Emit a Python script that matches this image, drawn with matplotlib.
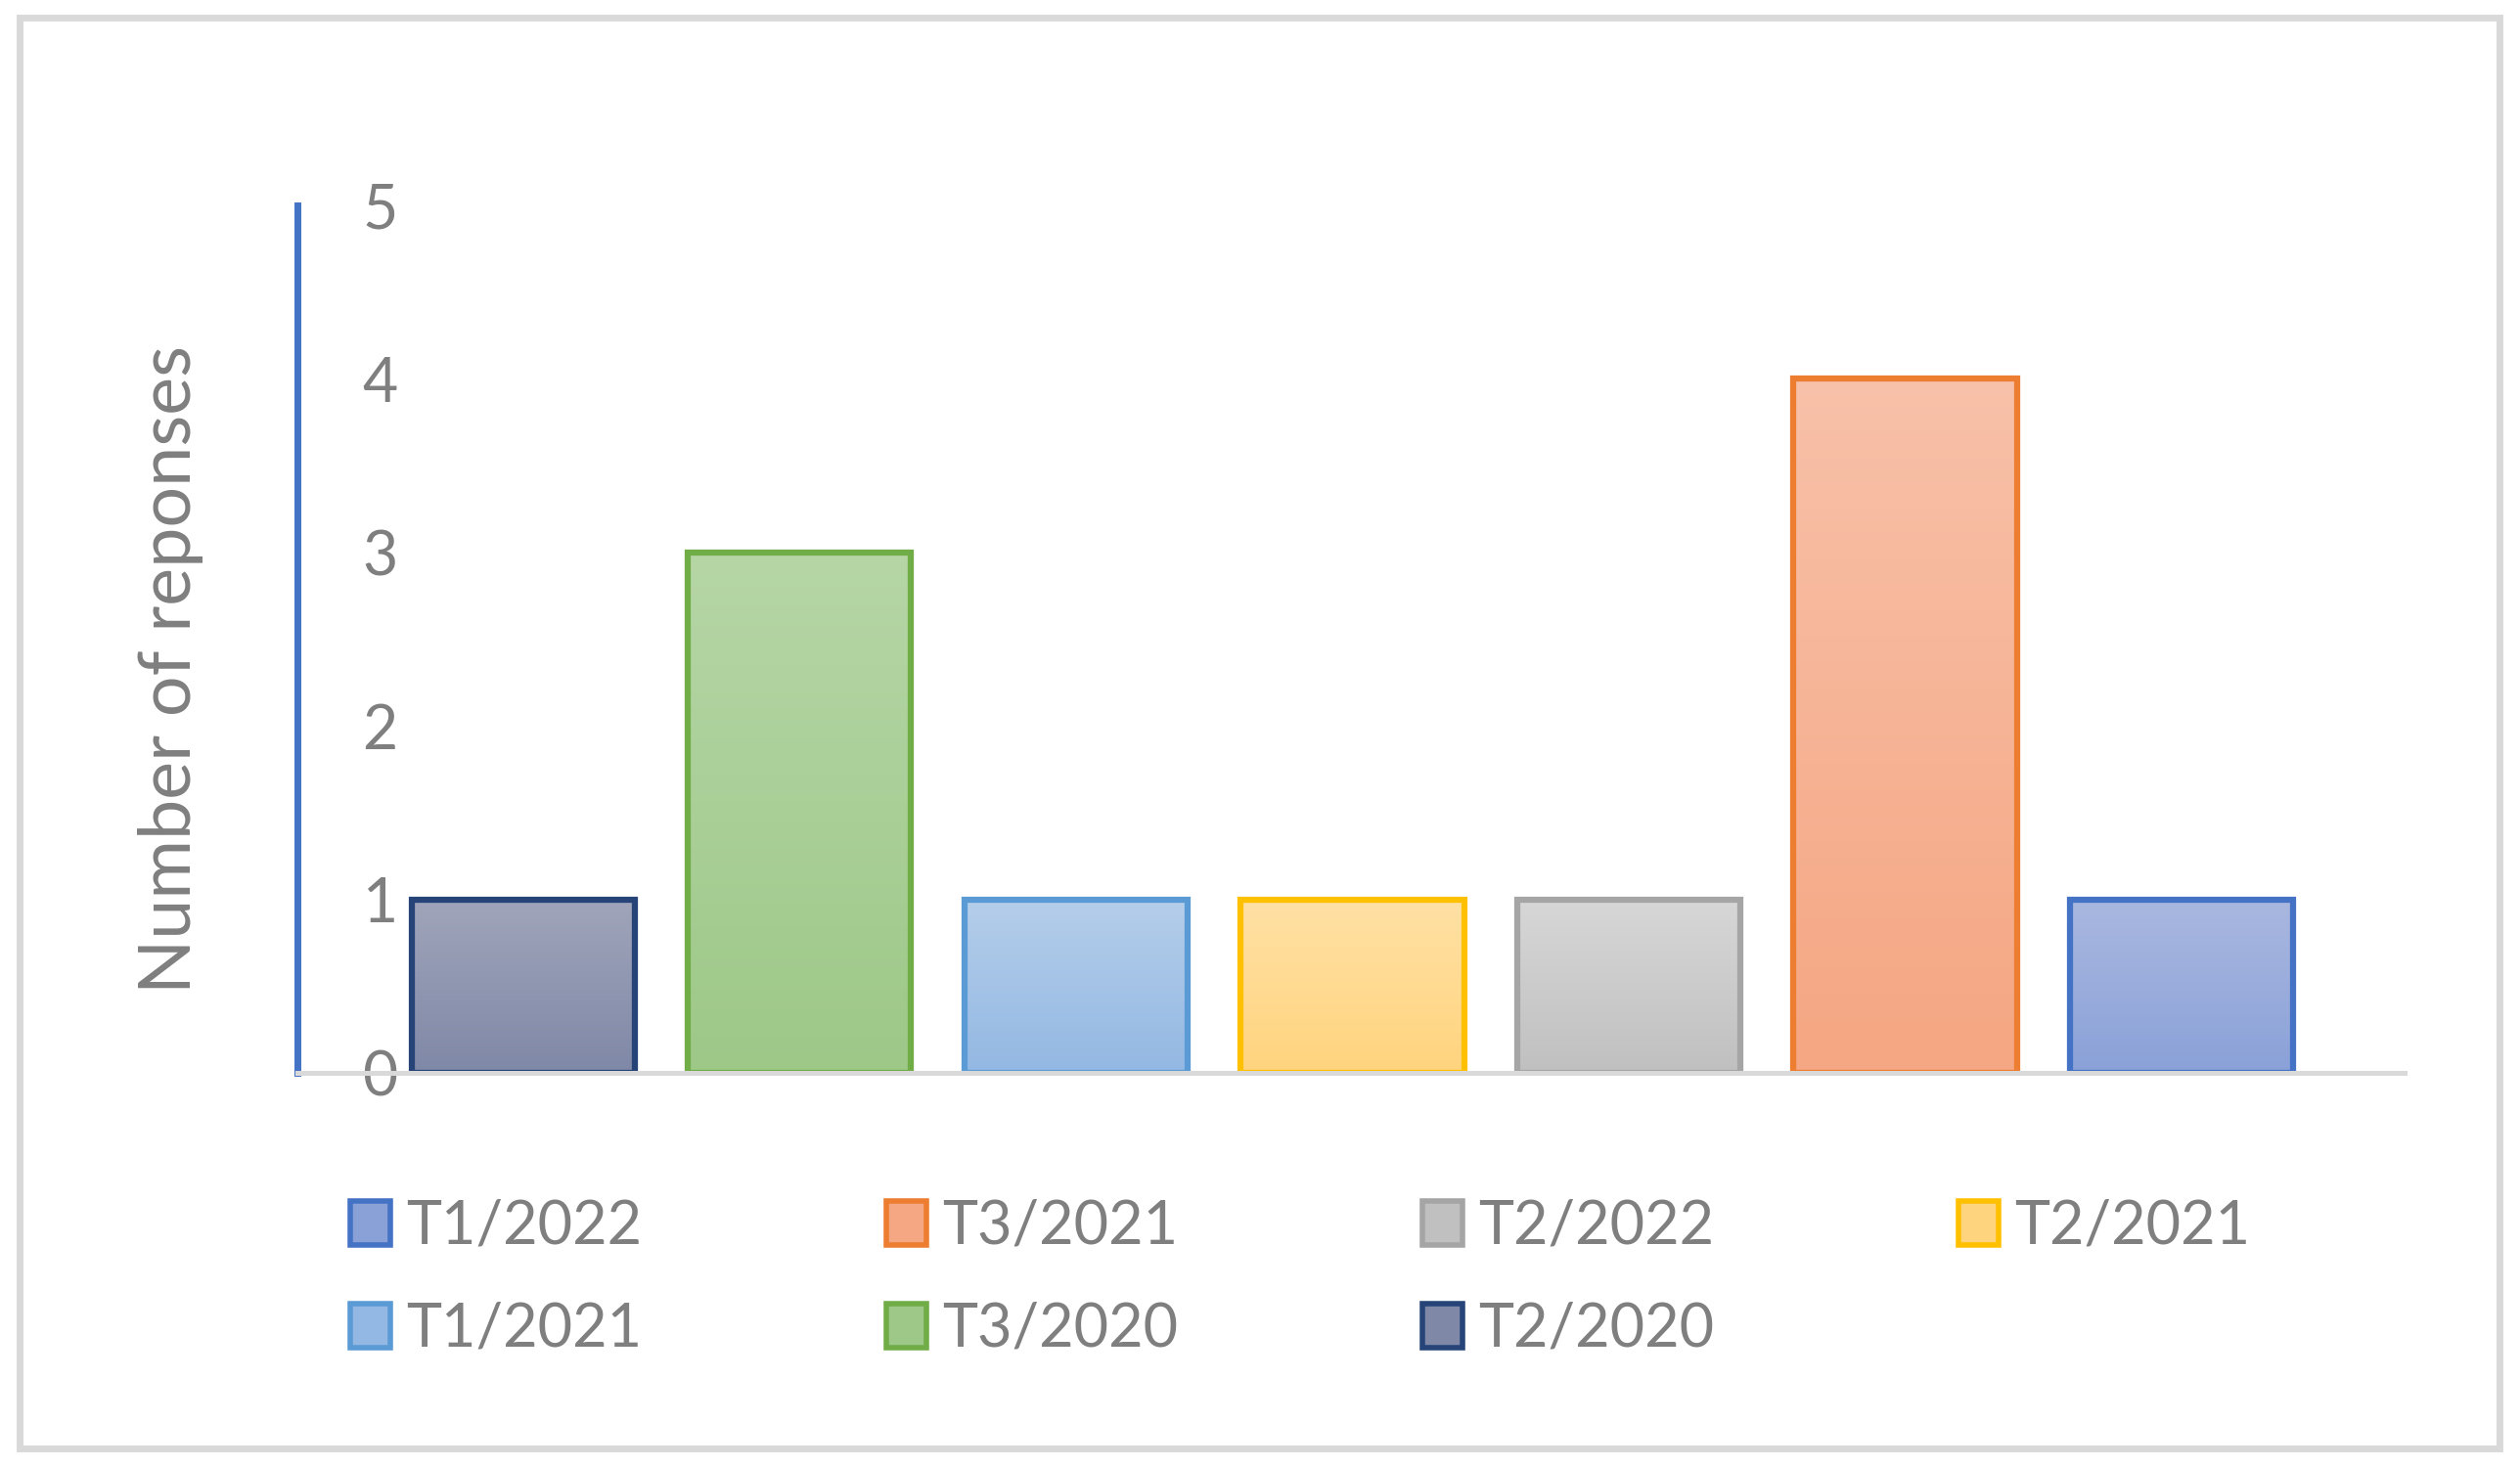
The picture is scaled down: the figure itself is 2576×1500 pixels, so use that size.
import numpy as np
import matplotlib
matplotlib.use("Agg")
import matplotlib.pyplot as plt
from matplotlib.colors import LinearSegmentedColormap
from matplotlib.patches import Patch, Rectangle

# data, in bar order (left to right)
periods = ["T2/2020", "T3/2020", "T1/2021", "T2/2021", "T2/2022", "T3/2021", "T1/2022"]
responses = [1, 3, 1, 1, 1, 4, 1]

edge_colors = ["#264478", "#70AD47", "#5B9BD5", "#FFC000", "#A5A5A5", "#ED7D31", "#4472C4"]
top_colors = ["#A0A5BA", "#B6D6A6", "#B5CEEA", "#FFE1A5", "#D7D7D7", "#F8C1A9", "#AAB8E0"]
bottom_colors = ["#7F88A7", "#9DC888", "#93B8E3", "#FFD47E", "#C0C0C0", "#F5A682", "#8AA1D8"]

plt.rcParams['font.family'] = ['Lato', 'DejaVu Sans']
text_grey = "#7F7F7F"

fig = plt.figure(figsize=(25.76, 15), dpi=100)
ax = fig.add_axes([0.118, 0.2687, 0.836, 0.5913])

x = np.arange(len(periods))
width = 0.808
bars = ax.bar(x, responses, width=width, facecolor="none",
              edgecolor=edge_colors, linewidth=4.5, zorder=3)

# vertical gradient fill for each bar, clipped to the bar shape
grad = np.linspace(0, 1, 256).reshape(-1, 1)
for b, c_top, c_bot in zip(bars, top_colors, bottom_colors):
    cmap = LinearSegmentedColormap.from_list("g", [c_bot, c_top])
    im = ax.imshow(grad, cmap=cmap, origin="lower", aspect="auto",
                   extent=[b.get_x(), b.get_x() + b.get_width(), 0, b.get_height()],
                   zorder=2)
    im.set_clip_path(b)

ax.set_xlim(-0.817, 6.805)
ax.set_ylim(0, 5)
ax.set_yticks(range(0, 6))
ax.set_xticks([])

for s in ["top", "right"]:
    ax.spines[s].set_visible(False)
ax.spines["left"].set_color("#4472C4")
ax.spines["left"].set_linewidth(5)
ax.spines["bottom"].set_color("#D9D9D9")
ax.spines["bottom"].set_linewidth(3.6)
ax.spines["bottom"].set_zorder(4)

ax.tick_params(axis="y", length=0, pad=-61, labelsize=45, labelcolor=text_grey)
for t in ax.get_yticklabels():
    t.set_horizontalalignment("center")
    t.set_verticalalignment("center_baseline")

ax.set_ylabel("Number of reponses", fontsize=53, color=text_grey, va="center")
ax.yaxis.set_label_coords(-0.0599, 0.465)

# legend: row-wise reversed order in 4 columns
leg_order = [6, 5, 4, 3, 2, 1, 0]
handles = [Patch(facecolor=bottom_colors[i], edgecolor=edge_colors[i], linewidth=4)
           for i in leg_order]
labels = [periods[i] for i in leg_order]
idx = [0, 4, 1, 5, 2, 6, 3]
fig.legend([handles[i] for i in idx], [labels[i] for i in idx],
           loc="upper left", bbox_to_anchor=(0.139, 0.1827), ncol=4,
           frameon=False, fontsize=44, labelcolor=text_grey,
           handlelength=0.67, handleheight=0.75, handletextpad=0.27,
           columnspacing=4.08, labelspacing=0.78, borderpad=0, borderaxespad=0)

# outer chart border
fig.patches.append(Rectangle((20 / 2576, 1 - 1481 / 1500), 2535 / 2576, 1463 / 1500,
                             transform=fig.transFigure, fill=False,
                             edgecolor="#D9D9D9", linewidth=5))

fig.savefig("out.png", dpi=100)
